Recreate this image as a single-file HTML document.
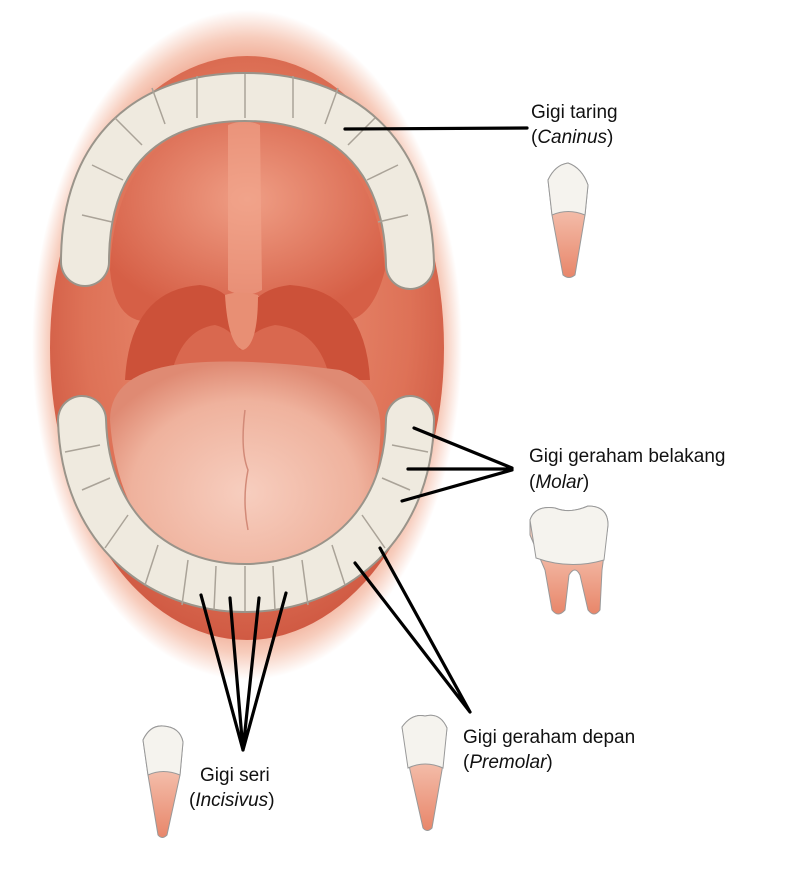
<!DOCTYPE html>
<html><head><meta charset="utf-8"><style>
body{margin:0;background:#fff;}
svg{display:block}
text{font-family:"Liberation Sans",sans-serif;font-size:19px;fill:#111}
</style></head><body>
<svg width="800" height="870" viewBox="0 0 800 870" xmlns="http://www.w3.org/2000/svg">
<defs>
<radialGradient id="halo" cx="50%" cy="50%" r="50%">
<stop offset="82%" stop-color="#ee9f86"/><stop offset="92%" stop-color="#f7cdbd"/><stop offset="100%" stop-color="#fff"/>
</radialGradient>
<radialGradient id="mouth" cx="50%" cy="45%" r="55%">
<stop offset="0%" stop-color="#ec957a"/><stop offset="75%" stop-color="#de7257"/><stop offset="100%" stop-color="#d05a43"/>
</radialGradient>
<radialGradient id="tongue" cx="50%" cy="60%" r="60%">
<stop offset="0%" stop-color="#f7cebf"/><stop offset="70%" stop-color="#efb29d"/><stop offset="100%" stop-color="#df8a73"/>
</radialGradient>
<radialGradient id="palate" cx="50%" cy="40%" r="60%">
<stop offset="0%" stop-color="#ef9e85"/><stop offset="100%" stop-color="#d65f46"/>
</radialGradient>
<linearGradient id="root" x1="0" y1="0" x2="0" y2="1">
<stop offset="0%" stop-color="#fbe3d6"/><stop offset="100%" stop-color="#e8866a"/>
</linearGradient>
</defs>
<ellipse cx="247" cy="345" rx="215" ry="335" fill="url(#halo)"/>
<ellipse cx="247" cy="348" rx="197" ry="292" fill="url(#mouth)"/>
<path d="M110,270 Q115,125 245,118 Q375,125 385,270 Q370,330 330,320 Q240,270 160,320 Q115,330 110,270Z" fill="url(#palate)"/>
<path d="M228,125 Q245,118 260,125 L262,290 Q245,300 228,290Z" fill="#f1a68d" opacity="0.6"/>
<path d="M125,380 Q130,290 200,285 Q240,290 240,335 Q245,290 290,285 Q365,290 370,380Z" fill="#cc5139"/>
<path d="M170,380 Q180,330 215,325 Q235,330 240,350 Q250,330 275,325 Q320,330 330,380Z" fill="#d9684f"/>
<path d="M225,295 Q240,290 258,295 Q258,345 243,350 Q228,345 225,295Z" fill="#e88f74"/>
<path d="M110,420 Q110,370 190,363 Q250,358 340,370 Q385,385 380,440 Q375,560 245,580 Q120,565 110,420Z" fill="url(#tongue)"/>
<path d="M245,410 Q240,450 248,470 Q242,500 248,530" stroke="#d28a78" stroke-width="1.5" fill="none"/>
<path d="M85,262 C85,150 150,97 245,97 C340,97 408,150 410,265" stroke="#9a948a" stroke-width="50" fill="none" stroke-linecap="round"/>
<path d="M85,262 C85,150 150,97 245,97 C340,97 408,150 410,265" stroke="#efeadf" stroke-width="46" fill="none" stroke-linecap="round"/>
<g stroke="#aaa398" stroke-width="1.5" fill="none">
<path d="M197,76 L197,118 M245,74 L245,118 M293,76 L293,118 M152,88 L165,124 M338,88 L325,124 M115,118 L142,145 M375,118 L348,145 M92,165 L123,180 M398,165 L367,180 M82,215 L112,222 M408,215 L378,222"/>
</g>
<path d="M82,420 C85,530 160,588 245,588 C330,588 408,530 410,420" stroke="#9a948a" stroke-width="50" fill="none" stroke-linecap="round"/>
<path d="M82,420 C85,530 160,588 245,588 C330,588 408,530 410,420" stroke="#efeadf" stroke-width="46" fill="none" stroke-linecap="round"/>
<g stroke="#aaa398" stroke-width="1.5" fill="none">
<path d="M216,566 L214,610 M245,566 L245,611 M273,566 L275,610 M188,560 L182,605 M302,560 L308,605 M158,545 L145,585 M332,545 L345,585 M128,515 L105,548 M362,515 L385,548 M110,478 L82,490 M382,478 L410,490 M100,445 L65,452 M392,445 L428,452"/>
</g>
<g stroke="#000" stroke-width="3.2" fill="none" stroke-linecap="round">
<path d="M345,129 L527,128"/>
<path d="M414,428 L512,468 M408,469 L512,469 M402,501 L512,470"/>
<path d="M355,563 L470,712 M380,548 L470,712"/>
<path d="M201,595 L243,750 M230,598 L243,750 M259,598 L243,750 M286,593 L243,750"/>
</g>
<text x="531" y="118">Gigi taring</text>
<text x="531" y="143">(<tspan font-style="italic">Caninus</tspan>)</text>
<text x="529" y="462">Gigi geraham belakang</text>
<text x="529" y="488">(<tspan font-style="italic">Molar</tspan>)</text>
<text x="463" y="743">Gigi geraham depan</text>
<text x="463" y="768">(<tspan font-style="italic">Premolar</tspan>)</text>
<text x="200" y="781">Gigi seri</text>
<text x="189" y="806">(<tspan font-style="italic">Incisivus</tspan>)</text>
<g stroke="#999" stroke-width="1">
<path d="M548,180 Q555,165 568,163 Q582,168 588,185 L585,215 L575,275 Q569,280 563,275 L552,215Z" fill="url(#root)"/>
<path d="M548,180 Q555,165 568,163 Q582,168 588,185 L585,215 Q568,208 552,215Z" fill="#f5f3ee"/>
<path d="M530,520 Q535,505 555,508 Q570,514 588,506 Q608,506 608,525 L602,570 L600,610 Q594,618 588,610 L580,575 Q575,565 569,575 L565,610 Q558,618 552,610 L545,570 L530,535Z" fill="url(#root)"/>
<path d="M530,520 Q535,505 555,508 Q570,514 588,506 Q608,506 608,525 L604,560 Q570,570 536,558Z" fill="#f5f3ee"/>
<path d="M143,740 Q150,725 163,726 Q180,727 183,742 L180,775 L167,835 Q162,840 158,835 L148,775Z" fill="url(#root)"/>
<path d="M143,740 Q150,725 163,726 Q180,727 183,742 L180,775 Q163,768 148,775Z" fill="#f5f3ee"/>
<path d="M402,727 Q412,713 425,716 Q440,712 447,728 L442,770 L432,828 Q427,833 423,828 L410,770Z" fill="url(#root)"/>
<path d="M402,727 Q412,713 425,716 Q440,712 447,728 L443,768 Q425,760 408,768Z" fill="#f5f3ee"/>
</g>
</svg>
</body></html>
